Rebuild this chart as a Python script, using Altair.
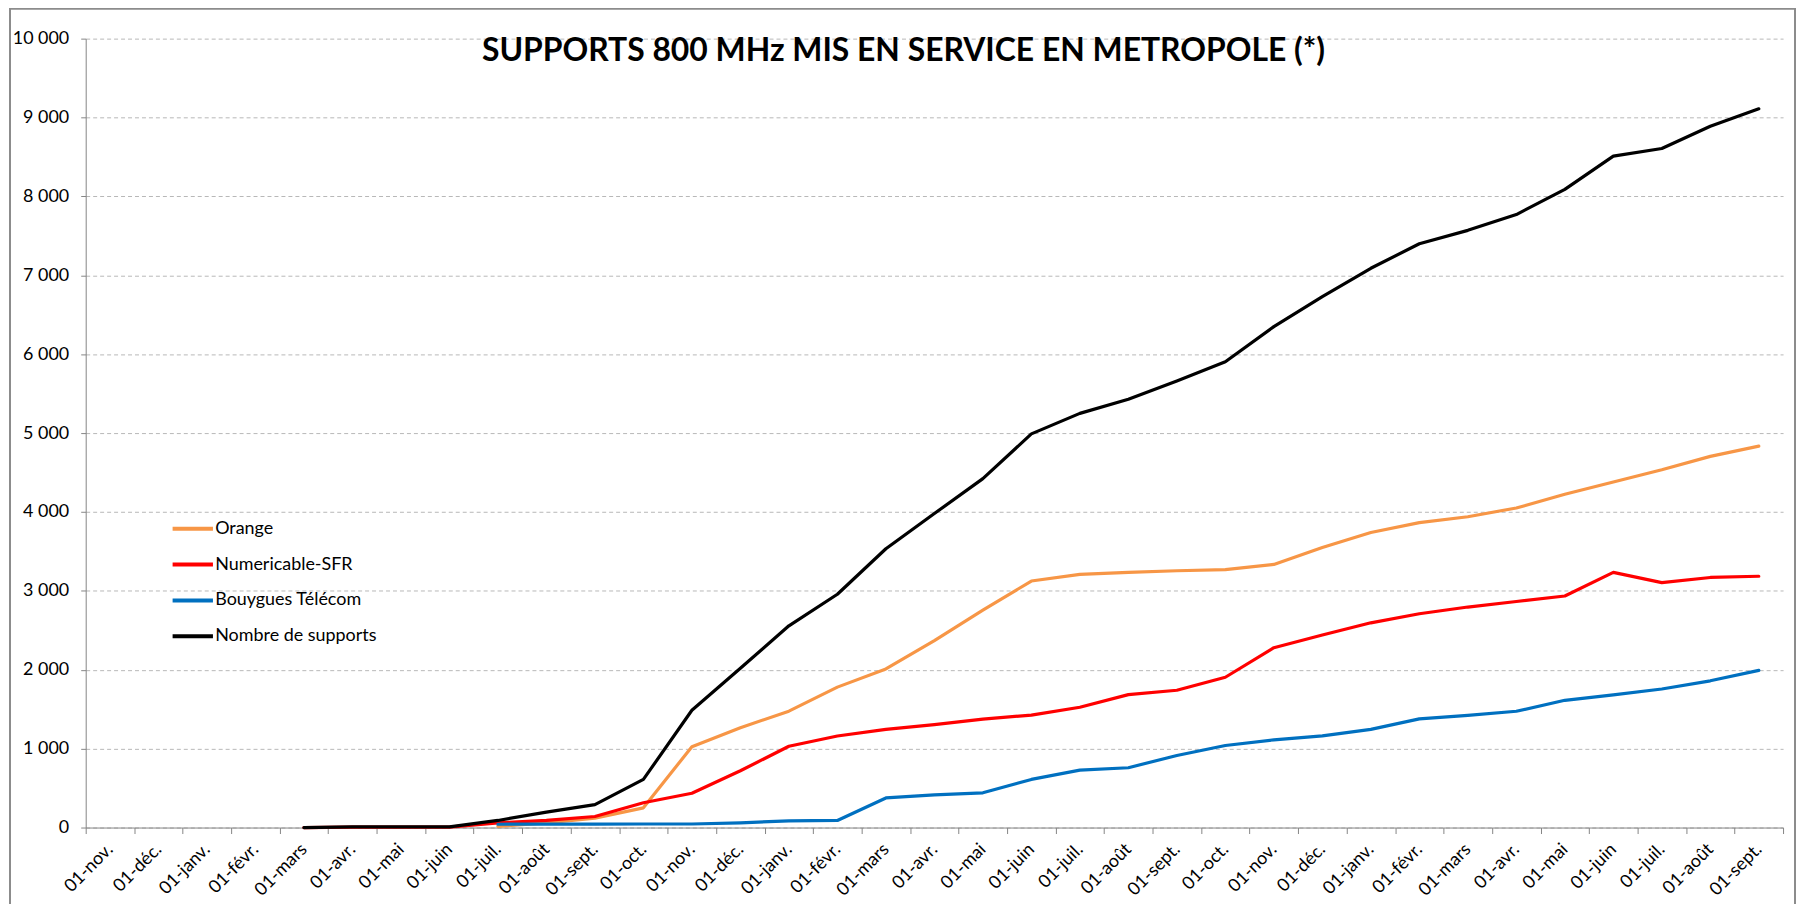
import json
import altair as alt
import pandas as pd

# Category labels (x axis), Nov 2012 -> Sept 2015
categories = [
    "01-nov.", "01-déc.", "01-janv.", "01-févr.", "01-mars", "01-avr.", "01-mai",
    "01-juin", "01-juil.", "01-août", "01-sept.", "01-oct.",
    "01-nov.", "01-déc.", "01-janv.", "01-févr.", "01-mars", "01-avr.", "01-mai",
    "01-juin", "01-juil.", "01-août", "01-sept.", "01-oct.",
    "01-nov.", "01-déc.", "01-janv.", "01-févr.", "01-mars", "01-avr.", "01-mai",
    "01-juin", "01-juil.", "01-août", "01-sept.",
]

series_names = ["Orange", "Numericable-SFR", "Bouygues Télécom", "Nombre de supports"]
series_colors = ["#F79646", "#FF0000", "#0070C0", "#000000"]

orange = [None, None, None, None, None, None, None, None,
          15, 60, 120, 250, 1025, 1265, 1475, 1780, 2010, 2370, 2755, 3125,
          3210, 3235, 3255, 3270, 3335, 3550, 3740, 3865, 3940, 4050, 4225,
          4380, 4535, 4705, 4835]
sfr = [None, None, None, None,
       0, 5, 5, 5, 60, 90, 140, 315, 435, 720, 1030, 1160, 1245, 1305, 1375,
       1425, 1525, 1685, 1740, 1905, 2280, 2440, 2595, 2710, 2795, 2865, 2935,
       3235, 3105, 3170, 3185]
bouygues = [None, None, None, None, None, None, None, None,
            42, 43, 44, 45, 45, 60, 85, 90, 375, 415, 440, 610, 728, 758, 914,
            1040, 1112, 1163, 1244, 1378, 1422, 1474, 1613, 1681, 1756, 1860,
            1992]
total = [None, None, None, None,
         0, 8, 8, 8, 90, 195, 290, 610, 1487, 2020, 2557, 2957, 3534, 3980,
         4423, 4990, 5250, 5430, 5661, 5905, 6350, 6730, 7089, 7400, 7570,
         7770, 8090, 8511, 8607, 8889, 9111]

y_ticks = [0, 1000, 2000, 3000, 4000, 5000, 6000, 7000, 8000, 9000, 10000]

rows = []
for name, vals in zip(series_names, [orange, sfr, bouygues, total]):
    for i, v in enumerate(vals):
        if v is not None:
            rows.append({"serie": name, "idx": i, "valeur": v})
df = pd.DataFrame(rows)

n = len(categories)
x_values = sorted([i for i in range(n)] + [i - 0.5 for i in range(n + 1)])
labels_js = json.dumps(categories, ensure_ascii=False)

FONT = "Lato"
AXIS_GRAY = "#868686"

x_axis = alt.Axis(
    values=x_values,
    labelExpr=f"datum.value % 1 !== 0 ? '' : {labels_js}[datum.value]",
    labelAngle=-45,
    labelAlign="right",
    labelBaseline="middle",
    labelFont=FONT,
    labelFontSize=18,
    labelColor="#000000",
    labelPadding=13,
    labelOverlap=False,
    labelFlush=False,
    labelBound=False,
    tickSize=6,
    tickColor=AXIS_GRAY,
    tickOpacity={"condition": {"test": "datum.value % 1 !== 0", "value": 1}, "value": 0},
    domainColor=AXIS_GRAY,
    domainWidth=1,
    grid=False,
    title=None,
)

y_axis = alt.Axis(
    values=y_ticks,
    labelExpr="replace(format(datum.value, ','), ',', ' ')",
    labelFont=FONT,
    labelFontSize=18,
    labelColor="#000000",
    labelPadding=12,
    tickSize=5,
    tickColor=AXIS_GRAY,
    domainColor=AXIS_GRAY,
    gridColor="#b8b8b8",
    gridDash=[4, 3],
    gridWidth=1,
    title=None,
)

legend = alt.Legend(
    orient="none",
    legendX=85,
    legendY=482,
    title=None,
    symbolType="stroke",
    symbolSize=1640,
    symbolStrokeWidth=4,
    labelFont=FONT,
    labelFontSize=18,
    labelColor="#000000",
    labelOffset=0,
    labelLimit=400,
    clipHeight=20,
    rowPadding=16,
    padding=0,
)

lines = alt.Chart(df).mark_line(strokeWidth=3.2, strokeJoin="round", strokeCap="round").encode(
    x=alt.X("idx:Q", scale=alt.Scale(domain=[-0.5, n - 0.5], nice=False, zero=False), axis=x_axis),
    y=alt.Y("valeur:Q", scale=alt.Scale(domain=[0, 10000], nice=False), axis=y_axis),
    color=alt.Color("serie:N", scale=alt.Scale(domain=series_names, range=series_colors),
                    sort=series_names, legend=legend),
)

frame = alt.Chart(alt.Data(values=[{"f": 1}])).mark_rect(
    fill="transparent", stroke="#8c8c8c", strokeWidth=2
).encode(
    x=alt.value(-76), x2=alt.value(1716), y=alt.value(-30), y2=alt.value(900)
)

chart = alt.layer(lines, frame).properties(
    width=1704,
    height=792,
    padding={"left": 78, "top": 29, "right": 14, "bottom": 75},
    autosize=alt.AutoSizeParams(type="none"),
    title=alt.TitleParams(
        text="SUPPORTS 800 MHz MIS EN SERVICE EN METROPOLE (*)",
        font=FONT,
        fontSize=32,
        fontWeight="bold",
        color="#000000",
        anchor="middle",
        frame="group",
        dx=-31,
        offset=-85,
        baseline="alphabetic",
    ),
).configure(background="white").configure_view(stroke=None)

chart.save("out.html", embed_options={"renderer": "svg", "actions": False})
